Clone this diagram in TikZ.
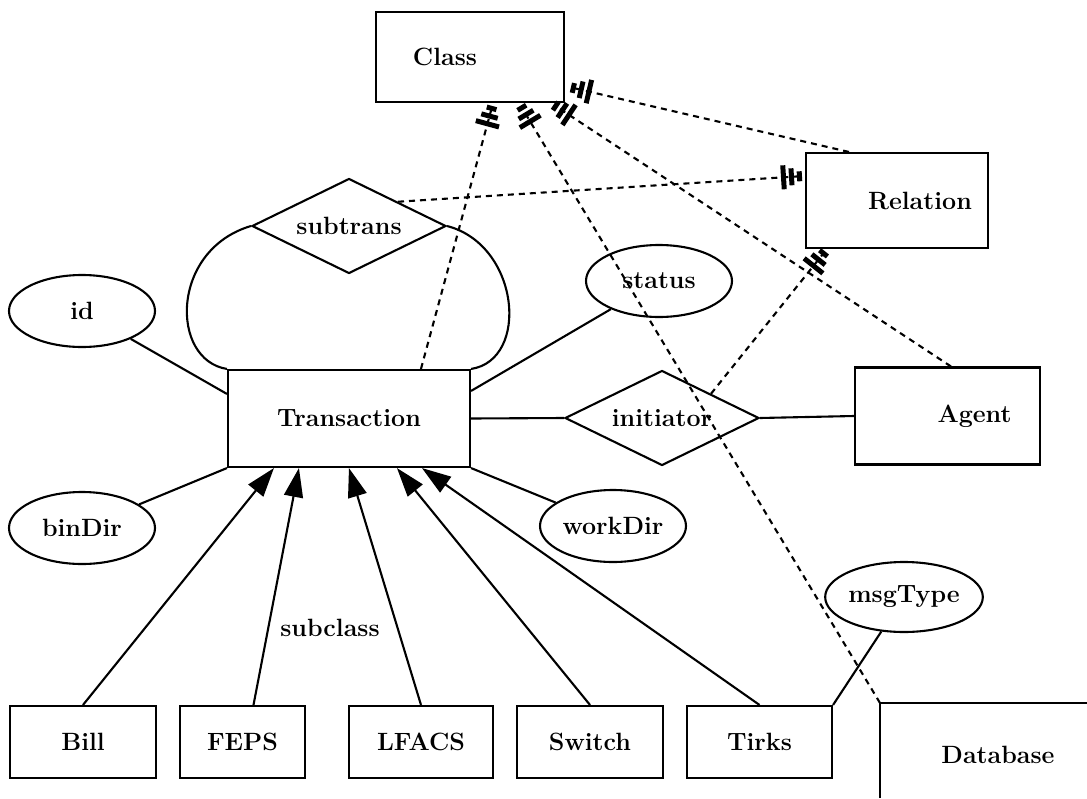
\documentclass[tikz,border=0pt]{standalone}
\usetikzlibrary{arrows.meta,shapes.geometric}

\tikzset{
    stripes/.tip={Rectangle[length=5pt,width=24pt,sep=3pt]Rectangle[length=5pt,width=17pt,sep=3pt]Rectangle[length=5pt,width=10pt]},
    entity/.style={draw, rectangle, inner sep=0pt},
    attr/.style={draw, ellipse, inner sep=0pt, minimum width=146pt, minimum height=72pt},
    rel/.style={draw, diamond, aspect=2, inner sep=0pt, minimum width=194pt, minimum height=95pt},
    isa/.style={-{Triangle[width=19pt,length=29pt]}},
    dep/.style={-stripes, dash pattern=on 6pt off 5pt, shorten >=3pt},
}

\begin{document}
\begin{tikzpicture}[x=1pt, y=-1pt, line width=2.1pt,
        font=\fontsize{25}{29}\selectfont\bfseries]
        \useasboundingbox (0, 0) rectangle (1087, 798);

        % entities
        \node[entity, minimum width=188pt, minimum height=90pt] (class) at (470, 57) {\hspace*{-50pt}Class};
        \node[entity, minimum width=182pt, minimum height=95pt] (relation) at (897, 200.5) {\hspace*{46pt}Relation};
        \node[entity, minimum width=242pt, minimum height=97pt] (trans) at (349, 418.5) {Transaction};
        \node[entity, minimum width=185pt, minimum height=97pt] (agent) at (947.5, 416) {\hspace*{54pt}Agent};
        \node (db) at (998, 755) {Database};
        \coordinate (dbcorner) at (880, 703);
        \draw (880, 798) |- (1087, 703);

        \foreach \name/\txt/\x/\w in {bill/Bill/83/146, feps/FEPS/242.5/125, lfacs/LFACS/421/144,
                                      switch/Switch/590/146, tirks/Tirks/759.5/145} {
            \node[entity, minimum width=\w pt, minimum height=72pt] (\name) at (\x, 742) {\txt};
        }

        % attributes
        \node[attr] (id) at (82, 311) {id};
        \node[attr] (bindir) at (82, 528) {binDir};
        \node[attr] (status) at (659, 281) {status};
        \node[attr] (workdir) at (613, 526) {workDir};
        \node[attr, minimum width=145pt, minimum height=70pt] (msgtype) at (904, 597) {msgType};

        % relationships
        \node[rel] (subtrans) at (349, 226) {subtrans};
        \node[rel] (init) at (662, 418) {initiator};

        \draw (trans.north west) .. controls (170, 360) and (170, 250) .. (subtrans.west);
        \draw (subtrans.east) .. controls (520, 245) and (530, 360) .. (trans.north east);

        \draw (id) -- ([yshift=-25pt]trans.north west);
        \draw (bindir) -- (trans.south west);
        \draw (status) -- ([yshift=-22pt]trans.north east);
        \draw (workdir) -- (trans.south east);
        \draw (trans.east) -- (init.west);
        \draw (init.east) -- (agent.west);
        \draw (msgtype) -- (tirks.north east);

        % subclasses
        \draw[isa] (bill.north) -- ([xshift=47pt]trans.south west);
        \draw[isa] ([xshift=11pt]feps.north) -- ([xshift=72pt]trans.south west);
        \draw[isa] (lfacs.north) -- ([xshift=122pt]trans.south west);
        \draw[isa] (switch.north) -- ([xshift=170pt]trans.south west);
        \draw[isa] (tirks.north) -- ([xshift=195pt]trans.south west);
        \node (subclass) at (330, 628) {subclass};

        % instance-of links
        \draw[dep] ([xshift=194pt]trans.north west) -- ([xshift=-72pt]class.south east);
        \draw[dep] (dbcorner) -- ([xshift=-46pt]class.south east);
        \draw[dep] ([xshift=97pt]agent.north west) -- ([xshift=-14pt]class.south east);
        \draw[dep, shorten >=6pt] ([xshift=44pt]relation.north west) -- ([yshift=17pt]class.south east);
        \draw[dep] (subtrans.north east) -- ([yshift=-24pt]relation.north west);
        \draw[dep] (init.north east) -- ([xshift=22pt]relation.south west);
    \end{tikzpicture}
\end{document}
